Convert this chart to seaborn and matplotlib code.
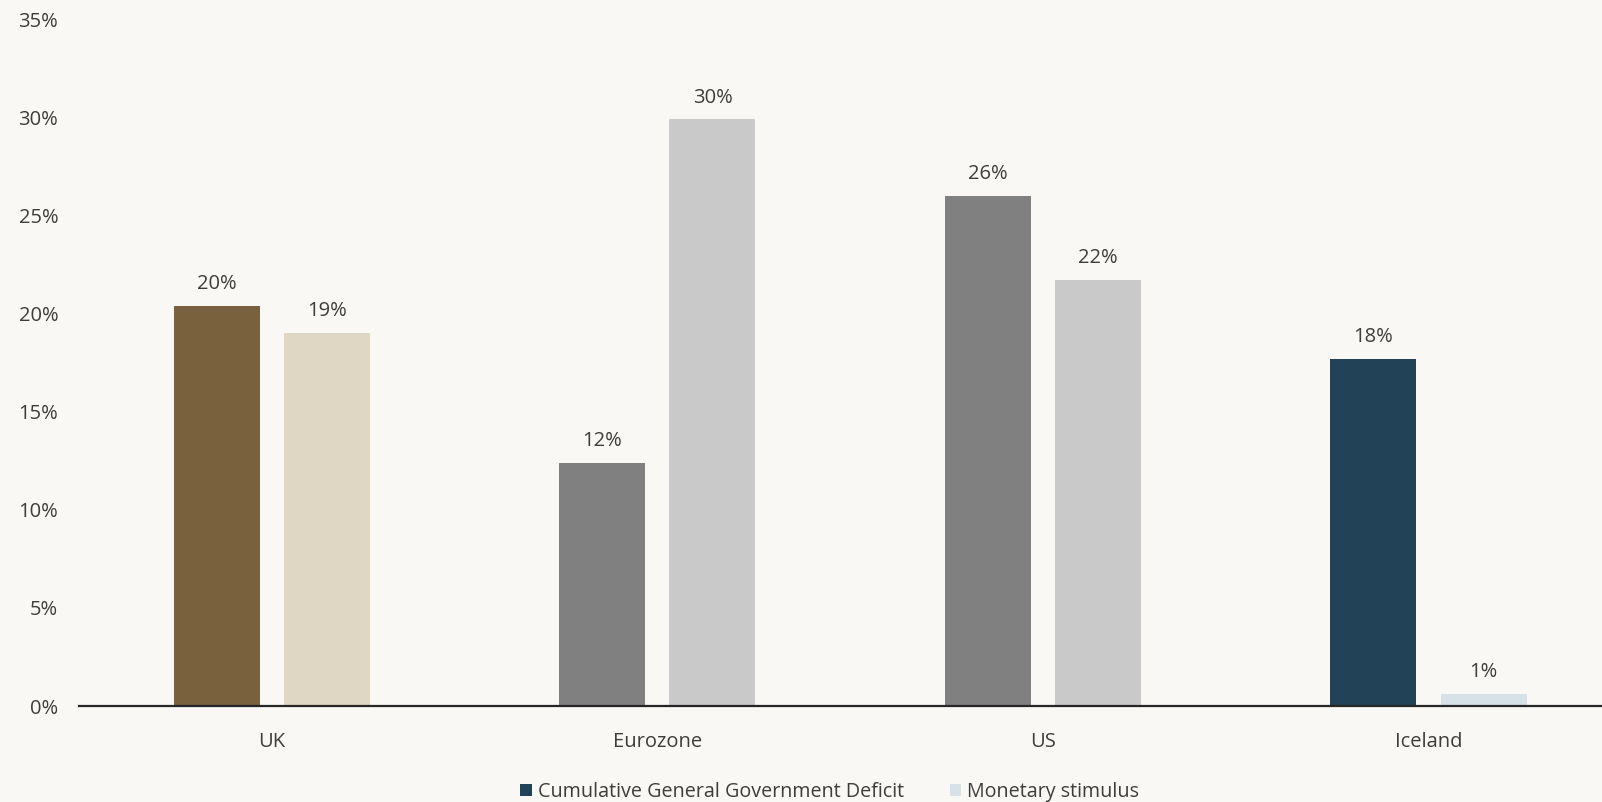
import matplotlib
matplotlib.use("Agg")
import matplotlib.pyplot as plt
from matplotlib.patches import Patch
import seaborn as sns
import pandas as pd

# Data (percent)
countries = ["UK", "Eurozone", "US", "Iceland"]
series = ["Cumulative General Government Deficit", "Monetary stimulus"]
deficit = [20.4, 12.4, 26.0, 17.7]
monetary = [19.0, 29.9, 21.7, 0.6]
y_ticks = [0, 5, 10, 15, 20, 25, 30, 35]

# Per-country bar colours: (deficit, monetary)
bar_colors = {
    "UK": ("#7a613e", "#e0d6c4"),
    "Eurozone": ("#808080", "#c9c9c9"),
    "US": ("#808080", "#c9c9c9"),
    "Iceland": ("#214257", "#d6e1e8"),
}
bg = "#f9f8f4"
text_col = "#3d3d3d"

df = pd.DataFrame({
    "country": countries * 2,
    "series": [series[0]] * 4 + [series[1]] * 4,
    "value": deficit + monetary,
})

sns.set_theme(style="white")
plt.rcParams["font.family"] = ["Open Sans", "DejaVu Sans"]

fig = plt.figure(figsize=(16.02, 8.02), dpi=100, facecolor=bg)
ax = fig.add_axes([79 / 1602, 1 - 706 / 802, 1 - 79 / 1602, (706 - 19.3) / 802])
ax.set_facecolor(bg)

sns.barplot(data=df, x="country", y="value", hue="series", order=countries,
            hue_order=series, width=0.572, gap=0.22, legend=False, ax=ax,
            saturation=1, edgecolor="none", linewidth=0)

for s_idx, cont in enumerate(ax.containers):
    for c_idx, bar in enumerate(cont):
        bar.set_facecolor(bar_colors[countries[c_idx]][s_idx])
    vals = deficit if s_idx == 0 else monetary
    ax.bar_label(cont, labels=[f"{v:.0f}%" for v in vals], padding=8.5,
                 fontsize=14.5, color=text_col)

ax.set_xlim(-0.5, 3.45)
ax.set_ylim(0, 35)
ax.set_yticks(y_ticks)
ax.set_yticklabels([f"{t}%" for t in y_ticks])
ax.set_xlabel("")
ax.set_ylabel("")
ax.tick_params(axis="y", length=0, pad=15, labelsize=14.5, labelcolor=text_col)
ax.tick_params(axis="x", length=0, pad=18.5, labelsize=14.5, labelcolor=text_col)
for side in ["left", "top", "right"]:
    ax.spines[side].set_visible(False)
ax.spines["bottom"].set_color("#262626")
ax.spines["bottom"].set_linewidth(1.6)
ax.grid(False)

handles = [Patch(facecolor=bar_colors["Iceland"][0], edgecolor="none"),
           Patch(facecolor=bar_colors["Iceland"][1], edgecolor="none")]
fig.legend(handles, series, loc="center", bbox_to_anchor=(0.518, 1 - 792 / 802),
           ncol=2, frameon=False, fontsize=14.2, labelcolor=text_col,
           handlelength=0.6, handleheight=0.6, handletextpad=0.3,
           columnspacing=2.3, borderpad=0)

fig.savefig("out.png", dpi=100, facecolor=bg)
